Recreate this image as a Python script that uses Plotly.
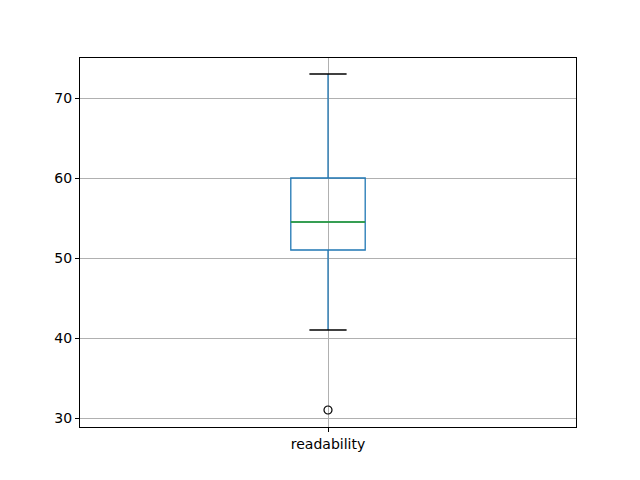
import plotly.graph_objects as go

# Data
categories = ["readability"]
q1 = [51]
median = [54.5]
q3 = [60]
lower_whisker = [41]
upper_whisker = [73]
outliers = [31]

pos = 1
box_w = 0.15
cap_w = box_w / 2

fig = go.Figure()
fig.add_trace(go.Box(
    x=[pos], q1=q1, median=median, q3=q3,
    lowerfence=lower_whisker, upperfence=upper_whisker,
    width=box_w, whiskerwidth=0.0001, boxpoints=False,
    line=dict(color="#1f77b4", width=1.3),
    fillcolor="rgba(0,0,0,0)", showlegend=False, hoverinfo="skip",
))
# median line (green)
fig.add_trace(go.Scatter(
    x=[pos - box_w / 2, pos + box_w / 2], y=[median[0], median[0]],
    mode="lines", line=dict(color="#2ca02c", width=1.3), showlegend=False))
# caps (black)
for v in (lower_whisker[0], upper_whisker[0]):
    fig.add_trace(go.Scatter(
        x=[pos - cap_w / 2, pos + cap_w / 2], y=[v, v],
        mode="lines", line=dict(color="black", width=1.3), showlegend=False))
# outliers
fig.add_trace(go.Scatter(
    x=[pos] * len(outliers), y=outliers, mode="markers",
    marker=dict(symbol="circle-open", size=8, color="black", line=dict(width=1.2)),
    showlegend=False))

fig.update_layout(
    width=632, height=472,
    margin=dict(l=72, r=64, t=50, b=53),
    paper_bgcolor="white", plot_bgcolor="white",
    font=dict(family="DejaVu Sans", size=14, color="black"),
)
fig.update_xaxes(
    range=[0.5, 1.5], tickvals=[pos], ticktext=categories,
    showgrid=True, gridcolor="#b0b0b0", gridwidth=0.8,
    showline=True, linecolor="black", linewidth=1, mirror=True,
    ticks="outside", ticklen=4, tickcolor="black", zeroline=False,
)
fig.update_yaxes(
    range=[28.875, 75], tickvals=[30, 40, 50, 60, 70],
    showgrid=True, gridcolor="#b0b0b0", gridwidth=0.8,
    showline=True, linecolor="black", linewidth=1, mirror=True,
    ticks="outside", ticklen=4, tickcolor="black", zeroline=False,
)

fig.write_html("out.html")
